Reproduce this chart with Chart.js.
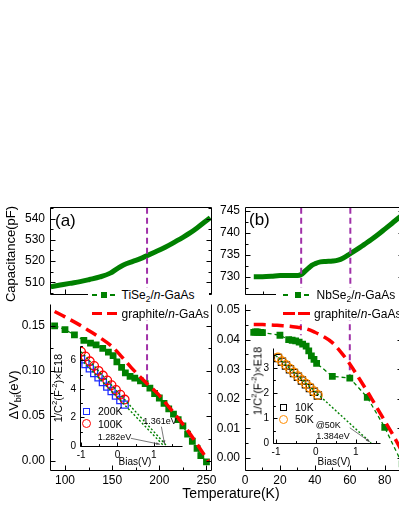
<!DOCTYPE html>
<html>
<head>
<meta charset="utf-8">
<script src="https://cdn.jsdelivr.net/npm/chart.js@4.4.1/dist/chart.umd.min.js"></script>
<style>
  body { margin: 0; width: 399px; height: 516px; overflow: hidden; background: #fff; position: relative;
         font-family: "Liberation Sans", Arial, sans-serif; color: #000; }
  canvas { position: absolute; }
  .t { position: absolute; white-space: nowrap; line-height: 1; transform: translate(0, -50%); }
  .c { position: absolute; white-space: nowrap; line-height: 1; transform: translate(-50%, -50%); }
  .r { position: absolute; white-space: nowrap; line-height: 1; transform: translate(-50%, -50%) rotate(-90deg); }
  .m { position: absolute; box-sizing: border-box; }
  sub, sup { font-size: 70%; line-height: 0; }
</style>
</head>
<body>
<canvas id="cA1"></canvas>
<canvas id="cA2"></canvas>
<canvas id="cB1"></canvas>
<canvas id="cB2"></canvas>
<canvas id="cIA"></canvas>
<canvas id="cIB"></canvas>

<!-- legend (a) -->
<div class="m" style="left:88px;top:288px;width:121px;height:32px;background:#fff"></div>
<div class="m" style="left:91.5px;top:294.2px;width:5px;height:1.6px;background:#008000"></div>
<div class="m" style="left:100.5px;top:292px;width:6px;height:6px;background:#008000"></div>
<div class="m" style="left:109.5px;top:294.2px;width:5px;height:1.6px;background:#008000"></div>
<div class="t" style="left:121.5px;top:295px;font-size:12px">TiSe<sub>2</sub>/<i>n</i>-GaAs</div>
<div class="m" style="left:91.5px;top:311.5px;width:10px;height:3.5px;background:#ff0000"></div>
<div class="m" style="left:106.5px;top:311.5px;width:10px;height:3.5px;background:#ff0000"></div>
<div class="t" style="left:121.5px;top:313.5px;font-size:12px">graphite/<i>n</i>-GaAs</div>

<!-- legend (b) -->
<div class="m" style="left:276px;top:288px;width:130px;height:32px;background:#fff"></div>
<div class="m" style="left:282.5px;top:294.2px;width:5px;height:1.6px;background:#008000"></div>
<div class="m" style="left:294.5px;top:292px;width:6px;height:6px;background:#008000"></div>
<div class="m" style="left:304px;top:294.2px;width:5px;height:1.6px;background:#008000"></div>
<div class="t" style="left:316.5px;top:295px;font-size:12px">NbSe<sub>2</sub>/<i>n</i>-GaAs</div>
<div class="m" style="left:282.5px;top:311.5px;width:12px;height:3.5px;background:#ff0000"></div>
<div class="m" style="left:298px;top:311.5px;width:12px;height:3.5px;background:#ff0000"></div>
<div class="t" style="left:314px;top:313.5px;font-size:12px">graphite/<i>n</i>-GaAs</div>

<!-- inset legends -->
<div class="m" style="left:82.5px;top:407.5px;width:7px;height:7px;border:1.3px solid #1f2fff"></div>
<div class="t" style="left:98px;top:411px;font-size:10.5px">200K</div>
<div class="m" style="left:81.5px;top:419px;width:9px;height:9px;border:1.3px solid #ff0000;border-radius:50%"></div>
<div class="t" style="left:98px;top:423.5px;font-size:10.5px">100K</div>
<div class="m" style="left:279.8px;top:403.8px;width:7px;height:7px;border:1.3px solid #000"></div>
<div class="t" style="left:295px;top:407.3px;font-size:10.5px">10K</div>
<div class="m" style="left:278.8px;top:414.8px;width:9px;height:9px;border:1.3px solid #ff8c00;border-radius:50%"></div>
<div class="t" style="left:295px;top:419.3px;font-size:10.5px">50K</div>

<!-- titles -->
<div class="t" style="left:55px;top:220px;font-size:17px">(a)</div>
<div class="t" style="left:249px;top:219px;font-size:17px">(b)</div>
<div class="c" style="left:231px;top:493px;font-size:14px">Temperature(K)</div>
<div class="r" style="left:10px;top:254px;font-size:13px">Capacitance(pF)</div>
<div class="r" style="left:13px;top:395px;font-size:13px">&Delta;V<sub>bi</sub>(eV)</div>
<div class="r" style="left:57.5px;top:388px;font-size:11px">1/C<sup>2</sup>(F<sup>-2</sup>)&times;E18</div>
<div class="r" style="left:257.5px;top:381px;font-size:11px">1/C<sup>2</sup>(F<sup>-2</sup>)&times;E18</div>
<div class="c" style="left:135px;top:462px;font-size:10px">Bias(V)</div>
<div class="c" style="left:334px;top:462px;font-size:10px">Bias(V)</div>

<script>
// ---------- data ----------
// (a) TiSe2/n-GaAs capacitance vs temperature
const capTempA = [85, 95, 105, 116, 126, 137, 148, 155, 162, 172, 180, 187, 195, 203, 210, 218, 225, 233, 240, 247, 254];
const capValA = [508.0, 508.8, 509.6, 510.4, 511.4, 512.6, 514.4, 516.4, 518.2, 519.9, 521.2, 522.6, 524.2, 525.8, 527.4, 529.4, 531.2, 533.4, 535.6, 538.0, 540.4];

// (a) delta Vbi
const vbiTempA = [89, 100, 110, 120, 127, 133, 140, 146, 151, 155, 160, 164, 169, 174, 180, 185, 190, 195, 200, 205, 210, 215, 220, 225, 230, 235, 240, 244, 250];
const vbiValA = [0.150, 0.146, 0.140, 0.134, 0.131, 0.129, 0.125, 0.121, 0.117, 0.110, 0.104, 0.098, 0.094, 0.092, 0.089, 0.086, 0.081, 0.075, 0.070, 0.064, 0.058, 0.052, 0.046, 0.039, 0.030, 0.022, 0.014, 0.006, -0.001];
const grTempA = [89, 100, 114, 125, 137, 150, 160, 170, 185, 199, 211, 222, 232, 245, 252];
const grValA = [0.166, 0.160, 0.152, 0.145, 0.137, 0.127, 0.116, 0.104, 0.088, 0.074, 0.059, 0.045, 0.031, 0.011, 0.000];
const markTempA = [187];
const markVbiA = [0.088];

// (b) NbSe2/n-GaAs capacitance vs temperature
const capTempB = [5, 10, 15, 20, 25, 30, 32, 34, 36, 38, 40, 43, 46, 50, 53, 56, 60, 64, 68, 72, 76, 80, 84, 88, 90];
const capValB = [730.0, 730.0, 730.1, 730.3, 730.3, 730.3, 730.5, 731.2, 731.9, 732.6, 733.0, 733.4, 733.5, 733.6, 733.8, 734.3, 735.3, 736.3, 737.4, 738.5, 739.7, 741.0, 742.3, 743.6, 744.2];

// (b) delta Vbi
const vbiTempB = [5, 6, 7, 8, 9, 10, 20, 25, 27, 29, 31, 33, 35, 36.5, 38, 39.5, 41, 50, 60, 70, 80, 90];
const vbiValB = [0.0425, 0.0426, 0.0426, 0.0425, 0.0425, 0.0424, 0.0415, 0.0400, 0.0398, 0.0396, 0.0392, 0.0385, 0.0378, 0.0362, 0.0345, 0.0333, 0.0320, 0.0276, 0.0270, 0.0205, 0.0103, -0.0020];
const grTempB = [5, 10, 15, 20, 25, 30, 35, 40, 45, 50, 55, 60, 65, 70, 75, 80, 85, 90];
const grValB = [0.0451, 0.0451, 0.0450, 0.0448, 0.0446, 0.0442, 0.0437, 0.0425, 0.0410, 0.0390, 0.0357, 0.0318, 0.0272, 0.0225, 0.0175, 0.0125, 0.0075, 0.0020];
const markTempB = [32, 60];
const markVbiB = [0.0415, 0.027];

// inset (a): 1/C^2 vs bias
const biasA = [-1.0, -0.88, -0.76, -0.64, -0.52, -0.40, -0.28, -0.16, -0.04, 0.08, 0.20];
const invC2A200 = [6.06, 5.74, 5.43, 5.11, 4.80, 4.48, 4.16, 3.85, 3.53, 3.22, 2.90];
const invC2A100 = [6.60, 6.27, 5.93, 5.60, 5.26, 4.93, 4.59, 4.26, 3.92, 3.59, 3.25];
const fitBiasA200 = [-1.0, 1.282];
const fitValA200 = [6.06, 0];
const fitBiasA100 = [-1.0, 1.361];
const fitValA100 = [6.60, 0];
const notesA = ['1.361eV', '1.282eV'];

// inset (b)
const biasB = [-0.95, -0.85, -0.75, -0.65, -0.55, -0.45, -0.35, -0.25, -0.15, -0.05, 0.05];
const invC2B10 = [3.40, 3.25, 3.10, 2.95, 2.80, 2.65, 2.50, 2.35, 2.20, 2.05, 1.90];
const invC2B50 = [3.42, 3.27, 3.12, 2.97, 2.82, 2.67, 2.52, 2.37, 2.22, 2.07, 1.92];
const fitBiasB = [-1.0, 1.384];
const fitValB = [3.49, 0];
const notesB = ['@50K', '1.384eV'];

// axis ranges
const tRangeA = [84.1, 254.8], tRangeB = [0, 90];
const capRangeA = [504.7, 545.3], capRangeB = [726.1, 745.9];
const vbiRangeA = [-0.0099, 0.1741], vbiRangeB = [-0.0041, 0.052];
const biasRangeA = [-1.03, 1.77], biasRangeB = [-1.075, 1.6];
const invRangeA = [0, 7], invRangeB = [0, 3.8];

// ---------- drawing ----------
Chart.defaults.font.family = '"Liberation Sans", Arial, sans-serif';
Chart.defaults.color = '#000';
const GREEN = '#008000', RED = '#ff0000', PURPLE = '#a030a8';

const pts = (xs, ys) => xs.map((x, i) => ({ x, y: ys[i] }));

// box frame with inward ticks
const frame = {
  id: 'frame',
  afterDatasetsDraw(chart, args, o) {
    const { ctx, chartArea: a, scales: { x, y } } = chart;
    const px = v => Math.round(v) + 0.5;
    ctx.save();
    ctx.strokeStyle = '#000';
    ctx.lineWidth = 1;
    ctx.beginPath();
    const L = px(a.left), R = px(a.right), T = px(a.top), B = px(a.bottom);
    if (o.sides.includes('left')) { ctx.moveTo(L, T); ctx.lineTo(L, B); }
    if (o.sides.includes('right')) { ctx.moveTo(R, T); ctx.lineTo(R, B); }
    if (o.sides.includes('top')) { ctx.moveTo(L, T); ctx.lineTo(R, T); }
    if (o.sides.includes('bottom')) { ctx.moveTo(L, B); ctx.lineTo(R, B); }
    const mark = (scale, step, minor, fn) => {
      const i0 = Math.ceil(scale.min / minor - 1e-6), i1 = Math.floor(scale.max / minor + 1e-6);
      for (let i = i0; i <= i1; i++) {
        const v = i * minor;
        const major = Math.abs(v / step - Math.round(v / step)) < 1e-6;
        fn(px(scale.getPixelForValue(v)), major ? o.len : o.len * 0.6);
      }
    };
    mark(y, o.yStep, o.yMinor, (p, l) => {
      if (o.yTicks.includes('left')) { ctx.moveTo(L, p); ctx.lineTo(L + l, p); }
      if (o.yTicks.includes('right')) { ctx.moveTo(R, p); ctx.lineTo(R - l, p); }
    });
    mark(x, o.xStep, o.xMinor, (p, l) => { ctx.moveTo(p, B); ctx.lineTo(p, B - l); });
    ctx.stroke();
    ctx.restore();
  }
};

// text notes and pointer lines in the insets
const notes = {
  id: 'notes',
  afterDatasetsDraw(chart, args, o) {
    if (!o.texts) return;
    const { ctx, scales: { x, y } } = chart;
    ctx.save();
    ctx.font = '9px "Liberation Sans", Arial, sans-serif';
    ctx.fillStyle = '#000';
    ctx.textAlign = 'center';
    ctx.textBaseline = 'middle';
    o.texts.forEach(t => ctx.fillText(t.text, x.getPixelForValue(t.x), y.getPixelForValue(t.y)));
    ctx.strokeStyle = '#555';
    ctx.fillStyle = '#555';
    ctx.lineWidth = 0.8;
    o.arrows.forEach(p => {
      const x1 = x.getPixelForValue(p[0]), y1 = y.getPixelForValue(p[1]);
      const x2 = x.getPixelForValue(p[2]), y2 = y.getPixelForValue(p[3]);
      ctx.beginPath(); ctx.moveTo(x1, y1); ctx.lineTo(x2, y2); ctx.stroke();
      const ang = Math.atan2(y2 - y1, x2 - x1);
      ctx.beginPath();
      ctx.moveTo(x2, y2);
      ctx.lineTo(x2 - 4 * Math.cos(ang - 0.35), y2 - 4 * Math.sin(ang - 0.35));
      ctx.lineTo(x2 - 4 * Math.cos(ang + 0.35), y2 - 4 * Math.sin(ang + 0.35));
      ctx.closePath(); ctx.fill();
    });
    ctx.restore();
  }
};

function axis(range, step, o) {
  return {
    type: 'linear', min: range[0], max: range[1],
    grid: { display: false, drawTicks: false },
    border: { display: false },
    ticks: Object.assign({
      display: o.labels !== false, stepSize: step, includeBounds: false, autoSkip: false,
      maxRotation: 0, padding: o.padding, font: { size: o.size || 12 }
    }, o.fmt ? { callback: o.fmt } : {})
  };
}

function build(id, area, pad, datasets, xAx, yAx, frameOpt, notesOpt) {
  const cv = document.getElementById(id);
  cv.width = area.w + pad.l + pad.r;
  cv.height = area.h + pad.t + pad.b;
  cv.style.left = (area.x - pad.l) + 'px';
  cv.style.top = (area.y - pad.t) + 'px';
  xAx.afterFit = s => { s.height = pad.b; };
  yAx.afterFit = s => { s.width = pad.l; };
  return new Chart(cv, {
    type: 'scatter',
    data: { datasets },
    options: {
      responsive: false, animation: false, devicePixelRatio: 1,
      layout: { padding: { top: pad.t, right: pad.r, left: 0, bottom: 0 } },
      scales: { x: xAx, y: yAx },
      plugins: { legend: { display: false }, tooltip: { enabled: false }, frame: frameOpt, notes: notesOpt || {} }
    },
    plugins: [frame, notes]
  });
}

const capLine = data => ({ data, showLine: true, borderColor: GREEN, borderWidth: 5, pointRadius: 0, cubicInterpolationMode: 'monotone' });
const grLine = data => ({ data, showLine: true, borderColor: RED, borderWidth: 3.5, borderDash: [12, 6], pointRadius: 0, cubicInterpolationMode: 'monotone' });
const vbiLine = data => ({ data, showLine: true, borderColor: GREEN, borderWidth: 1.3, borderDash: [4, 3],
  pointStyle: 'rect', pointRadius: 4.8, pointBackgroundColor: GREEN, pointBorderColor: GREEN, pointBorderWidth: 0 });
const purple = (t, y0, y1) => ({ data: [{ x: t, y: y0 }, { x: t, y: y1 }], showLine: true, borderColor: PURPLE, borderWidth: 2, borderDash: [6, 4], pointRadius: 0 });
const dotted = data => ({ data, showLine: true, borderColor: GREEN, borderWidth: 1.4, borderDash: [2, 2], pointRadius: 0 });
const hollow = (data, color, style, r) => ({ data, showLine: false, pointStyle: style, pointRadius: r, pointBorderColor: color, pointBackgroundColor: 'rgba(0,0,0,0)', pointBorderWidth: 1.3 });

// (a) top
build('cA1', { x: 50, y: 203, w: 161, h: 99 }, { l: 50, t: 8, r: 12, b: 4 },
  [...markTempA.map(t => purple(t, capRangeA[0], capRangeA[1])), capLine(pts(capTempA, capValA))],
  axis(tRangeA, 50, { labels: false }), axis(capRangeA, 10, { padding: 5 }),
  { sides: ['left', 'right', 'top', 'bottom'], yTicks: ['left', 'right'], yStep: 10, yMinor: 5, xStep: 50, xMinor: 25, len: 5 });

// (a) bottom
build('cA2', { x: 50, y: 302, w: 161, h: 168 }, { l: 50, t: 10, r: 12, b: 24 },
  [grLine(pts(grTempA, grValA)), vbiLine(pts(vbiTempA, vbiValA)),
   ...markTempA.map((t, i) => purple(t, vbiRangeA[1], markVbiA[i]))],
  axis(tRangeA, 50, { padding: 3 }), axis(vbiRangeA, 0.05, { padding: 5, fmt: v => v.toFixed(2) }),
  { sides: ['left', 'right', 'bottom'], yTicks: ['left', 'right'], yStep: 0.05, yMinor: 0.025, xStep: 50, xMinor: 25, len: 5 });

// (b) top
build('cB1', { x: 245, y: 203, w: 158, h: 99 }, { l: 40, t: 8, r: 4, b: 4 },
  [...markTempB.map(t => purple(t, capRangeB[0], capRangeB[1])), capLine(pts(capTempB, capValB))],
  axis(tRangeB, 20, { labels: false }), axis(capRangeB, 5, { padding: 5 }),
  { sides: ['left', 'right', 'top', 'bottom'], yTicks: ['left', 'right'], yStep: 5, yMinor: 2.5, xStep: 20, xMinor: 10, len: 5 });

// (b) bottom
build('cB2', { x: 245, y: 302, w: 158, h: 168 }, { l: 40, t: 10, r: 4, b: 24 },
  [grLine(pts(grTempB, grValB)), vbiLine(pts(vbiTempB, vbiValB)),
   ...markTempB.map((t, i) => purple(t, vbiRangeB[1], markVbiB[i]))],
  axis(tRangeB, 20, { padding: 3 }), axis(vbiRangeB, 0.01, { padding: 5, fmt: v => v.toFixed(2) }),
  { sides: ['left', 'right', 'bottom'], yTicks: ['left', 'right'], yStep: 0.01, yMinor: 0.005, xStep: 20, xMinor: 10, len: 5 });

// inset (a)
build('cIA', { x: 80, y: 342, w: 102, h: 104 }, { l: 22, t: 6, r: 6, b: 14 },
  [dotted(pts(fitBiasA200, fitValA200)), dotted(pts(fitBiasA100, fitValA100)),
   hollow(pts(biasA, invC2A100), RED, 'circle', 4.3), hollow(pts(biasA, invC2A200), '#1f2fff', 'rect', 5)],
  axis(biasRangeA, 1, { padding: 3, size: 10 }), axis(invRangeA, 2, { padding: 4, size: 10 }),
  { sides: ['left', 'bottom'], yTicks: ['left'], yStep: 2, yMinor: 1, xStep: 1, xMinor: 0.5, len: 4 },
  { texts: [{ text: notesA[0], x: 1.17, y: 1.68 }, { text: notesA[1], x: -0.08, y: 0.61 }],
    arrows: [[1.21, 1.35, 1.30, 0.12], [0.37, 0.54, 1.17, 0.12]] });

// inset (b)
build('cIB', { x: 273, y: 344, w: 107, h: 99 }, { l: 18, t: 6, r: 6, b: 14 },
  [dotted(pts(fitBiasB, fitValB)), hollow(pts(biasB, invC2B50), '#ff8c00', 'circle', 4.3),
   hollow(pts(biasB, invC2B10), '#000', 'rect', 5)],
  axis(biasRangeB, 1, { padding: 3, size: 10 }), axis(invRangeB, 1, { padding: 4, size: 10 }),
  { sides: ['left', 'bottom'], yTicks: ['left'], yStep: 1, yMinor: 0.5, xStep: 1, xMinor: 0.5, len: 4 },
  { texts: [{ text: notesB[0], x: 0.31, y: 0.69 }, { text: notesB[1], x: 0.43, y: 0.27 }],
    arrows: [[0.85, 0.61, 1.35, 0.05]] });
</script>
</body>
</html>
